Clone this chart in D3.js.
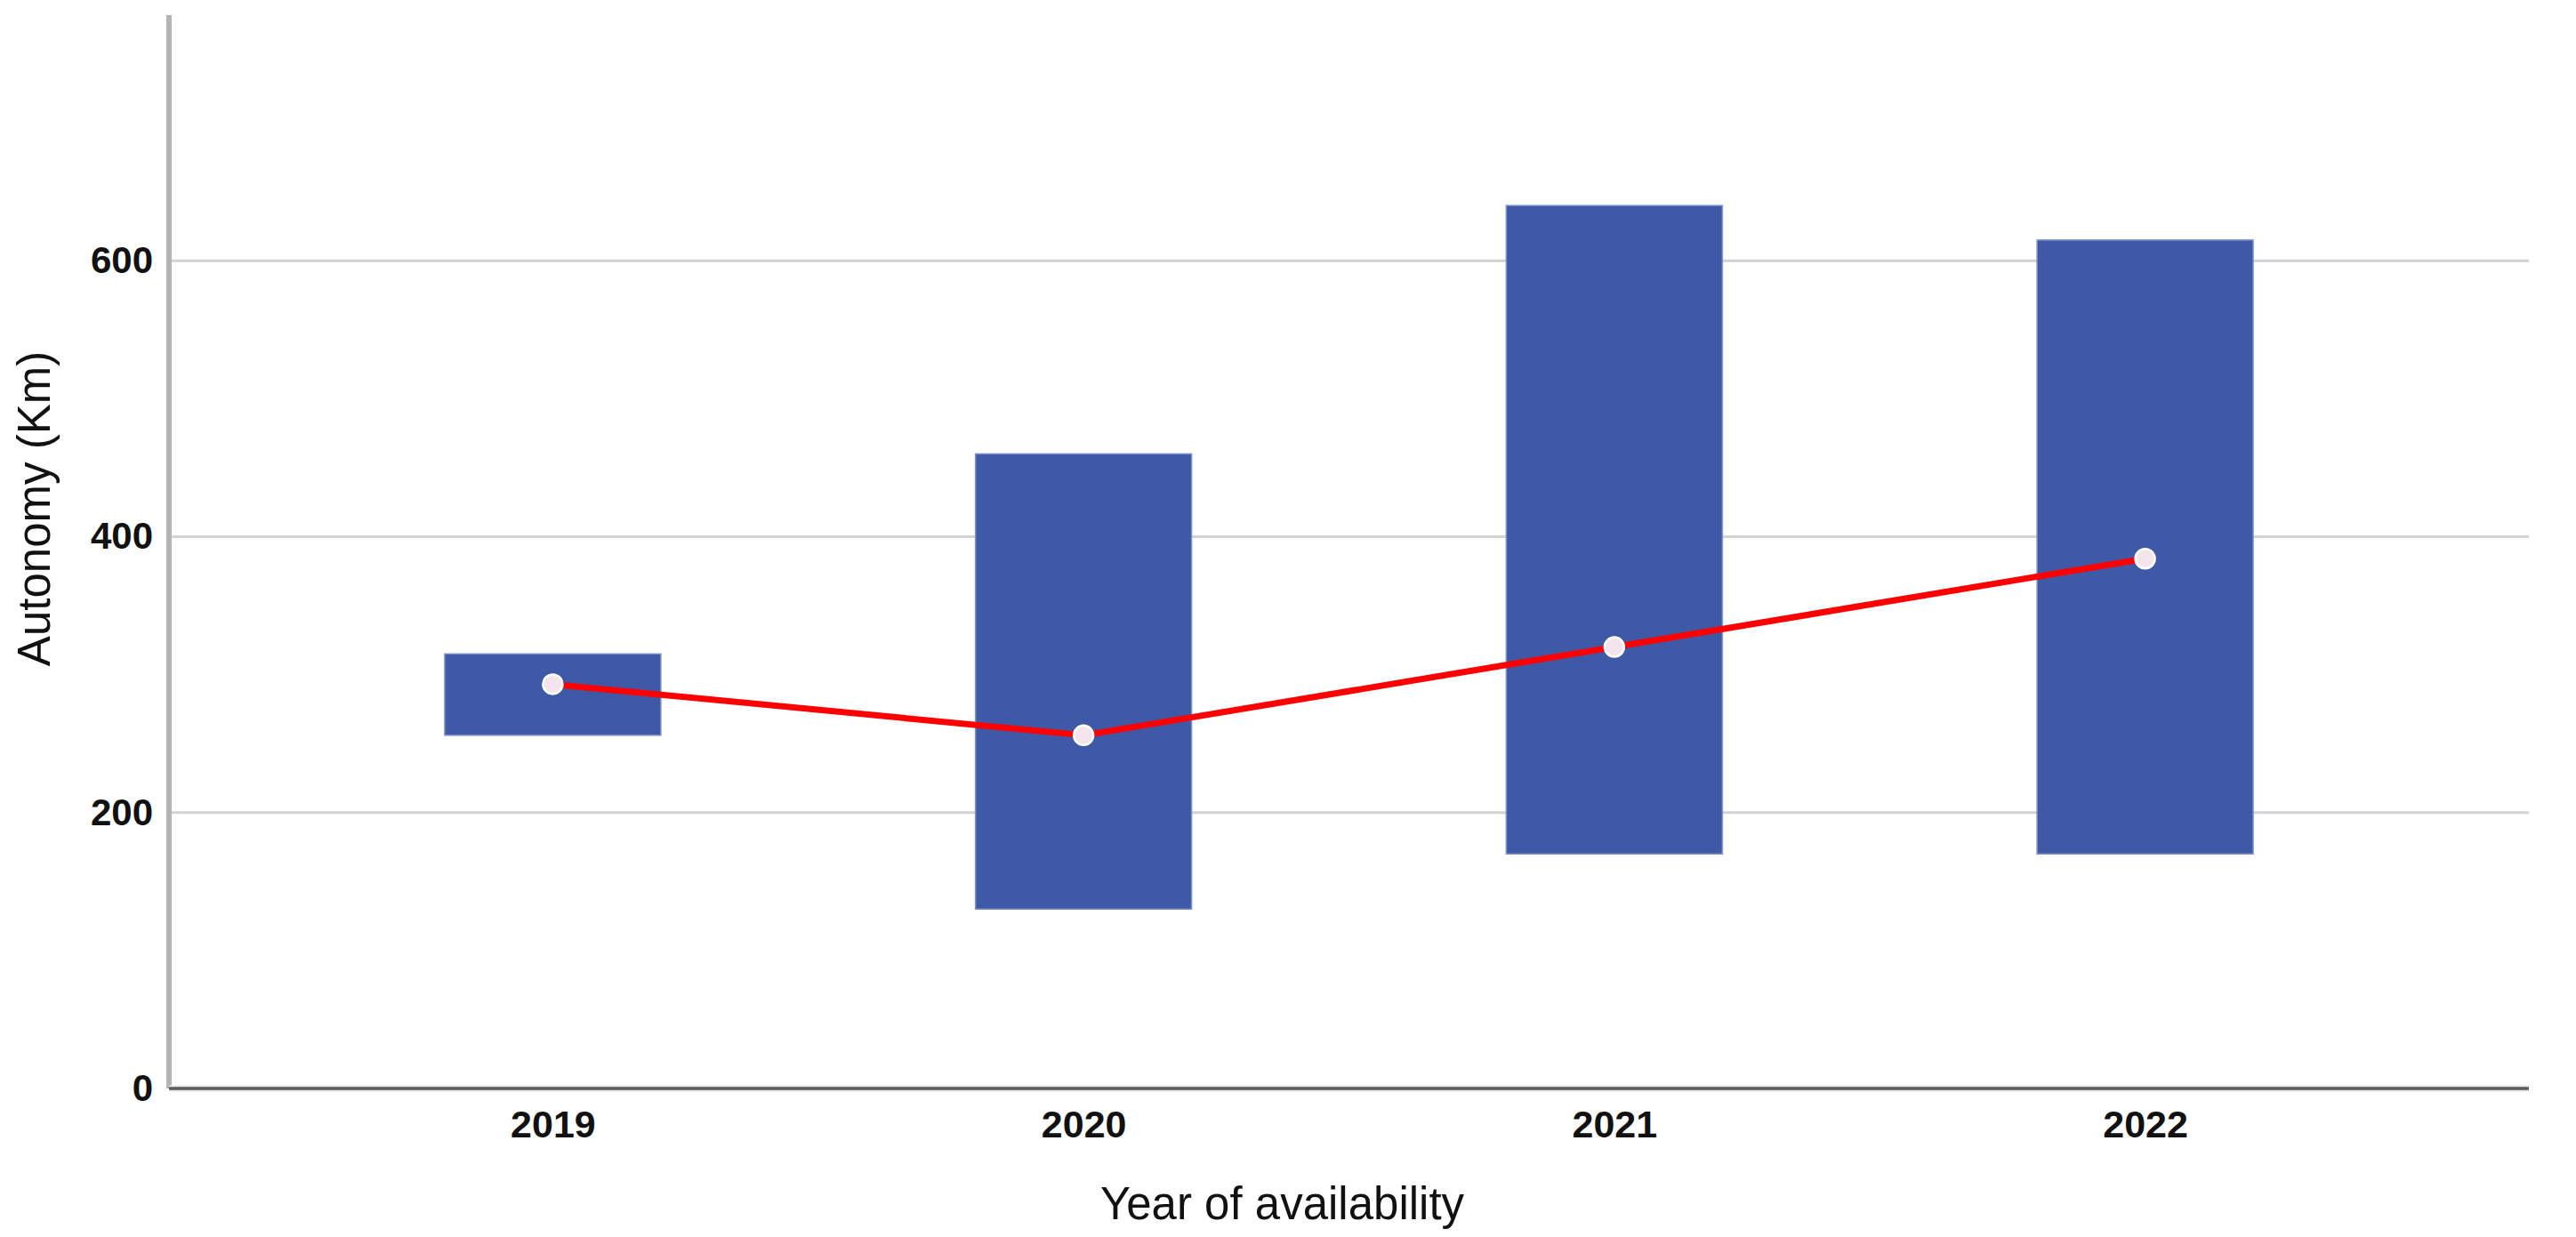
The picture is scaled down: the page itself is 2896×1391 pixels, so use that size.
<!DOCTYPE html>
<html>
<head>
<meta charset="utf-8">
<script src="https://cdn.jsdelivr.net/npm/d3@7"></script>
<style>
  html, body { margin: 0; padding: 0; background: #ffffff; }
  svg { display: block; }
</style>
</head>
<body>
<svg id="chart" width="2896" height="1391"></svg>
<script>
const years = ["2019", "2020", "2021", "2022"];
const lowValues = [256, 130, 170, 170];
const highValues = [315, 460, 640, 615];
const meanValues = [293, 256, 320, 384];
const yTicks = [0, 200, 400, 600];
const xTitle = "Year of availability";
const yTitle = "Autonomy (Km)";

const svg = d3.select("#chart");
const plotLeft = 190, plotRight = 2843, plotTop = 17, plotBottom = 1224;

const x = d3.scalePoint().domain(years).range([plotLeft, plotRight]).padding(0.723);
const y = d3.scaleLinear().domain([0, 778]).range([plotBottom, plotTop]);
const barW = 243;

// gridlines
svg.append("g").selectAll("line").data(yTicks.filter(d => d > 0)).join("line")
  .attr("x1", plotLeft).attr("x2", plotRight)
  .attr("y1", d => y(d)).attr("y2", d => y(d))
  .attr("stroke", "#d2d2d2").attr("stroke-width", 3);

// bars (range low-high)
svg.append("g").selectAll("rect").data(years).join("rect")
  .attr("x", d => x(d) - barW / 2)
  .attr("width", barW)
  .attr("y", (d, i) => y(highValues[i]))
  .attr("height", (d, i) => y(lowValues[i]) - y(highValues[i]))
  .attr("fill", "#3e5aa7")
  .attr("stroke", "#7f93cc").attr("stroke-width", 1.5);

// y axis
const yAxis = d3.axisLeft(y).tickValues(yTicks).tickSize(0).tickPadding(18).tickFormat(d3.format("d"));
const gy = svg.append("g").attr("transform", `translate(${plotLeft},0)`).call(yAxis);
gy.select(".domain").remove();
gy.selectAll("text")
  .attr("font-family", "'Liberation Sans', Arial, sans-serif")
  .attr("font-weight", "bold").attr("font-size", 42).attr("fill", "#111");
svg.append("line").attr("x1", plotLeft).attr("x2", plotLeft).attr("y1", plotTop).attr("y2", plotBottom)
  .attr("stroke", "#b4b4b4").attr("stroke-width", 6);

// x axis
const xAxis = d3.axisBottom(x).tickSize(0).tickPadding(24);
const gx = svg.append("g").attr("transform", `translate(0,${plotBottom})`).call(xAxis);
gx.select(".domain").remove();
gx.selectAll("text")
  .attr("font-family", "'Liberation Sans', Arial, sans-serif")
  .attr("font-weight", "bold").attr("font-size", 43).attr("fill", "#111");
svg.append("line").attr("x1", plotLeft).attr("x2", plotRight).attr("y1", plotBottom).attr("y2", plotBottom)
  .attr("stroke", "#e6e6e6").attr("stroke-width", 7);
svg.append("line").attr("x1", plotLeft).attr("x2", plotRight).attr("y1", plotBottom).attr("y2", plotBottom)
  .attr("stroke", "#5c5c5c").attr("stroke-width", 3.5);

// mean line
const line = d3.line().x((d, i) => x(years[i])).y(d => y(d));
svg.append("path").datum(meanValues)
  .attr("d", line).attr("fill", "none")
  .attr("stroke", "#ff0000").attr("stroke-width", 7);

svg.append("g").selectAll("circle").data(meanValues).join("circle")
  .attr("cx", (d, i) => x(years[i])).attr("cy", d => y(d))
  .attr("r", 11).attr("fill", "#f4e4ec")
  .attr("stroke", "#ffffff").attr("stroke-width", 2.5);

// titles
svg.append("text").text(xTitle)
  .attr("x", (plotLeft + plotRight) / 2 - 75).attr("y", 1371)
  .attr("text-anchor", "middle")
  .attr("font-family", "'Liberation Sans', Arial, sans-serif")
  .attr("font-size", 51).attr("fill", "#111");

svg.append("text").text(yTitle)
  .attr("transform", "translate(56,572) rotate(-90)")
  .attr("text-anchor", "middle")
  .attr("font-family", "'Liberation Sans', Arial, sans-serif")
  .attr("font-size", 51).attr("fill", "#111");
</script>
</body>
</html>
